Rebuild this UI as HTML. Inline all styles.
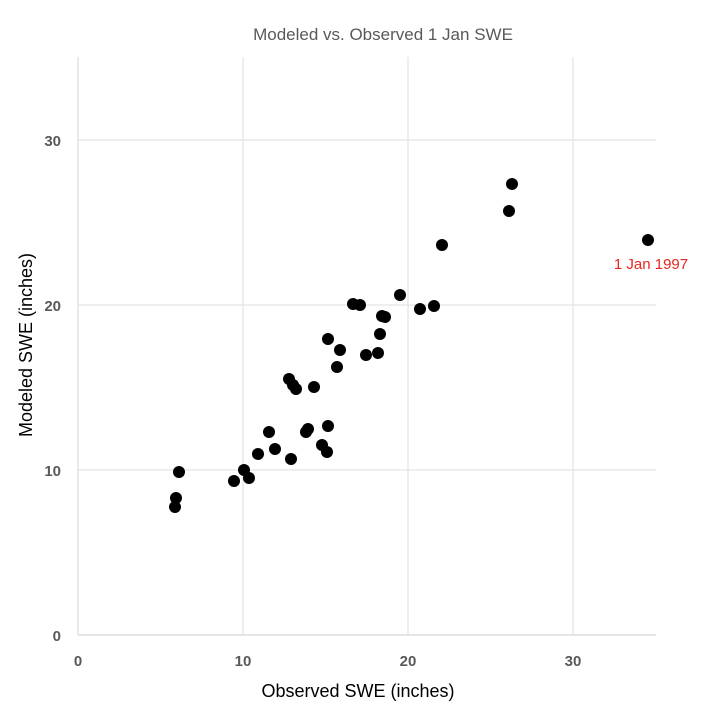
<!DOCTYPE html>
<html><head><meta charset="utf-8"><style>body{margin:0;background:#fff}</style></head><body>
<svg width="714" height="712" xmlns="http://www.w3.org/2000/svg" font-family="Liberation Sans, sans-serif">
<rect width="714" height="712" fill="#fff"/>
<text x="383" y="40" text-anchor="middle" font-size="17" fill="#595959">Modeled vs. Observed 1 Jan SWE</text>
<g stroke="#e3e3e3" stroke-width="1.2">
<line x1="78" y1="140" x2="656" y2="140"/><line x1="78" y1="305" x2="656" y2="305"/><line x1="78" y1="470" x2="656" y2="470"/>
<line x1="243" y1="57" x2="243" y2="635"/><line x1="408" y1="57" x2="408" y2="635"/><line x1="573" y1="57" x2="573" y2="635"/>
<line x1="78" y1="57" x2="78" y2="635" stroke="#ddd"/>
<line x1="78" y1="635" x2="656" y2="635" stroke="#d6d6d6"/>
</g>
<g font-size="15" font-weight="bold" fill="#595959">
<text x="61" y="146" text-anchor="end">30</text><text x="61" y="311" text-anchor="end">20</text><text x="61" y="476" text-anchor="end">10</text><text x="61" y="641" text-anchor="end">0</text>
<text x="78" y="666" text-anchor="middle">0</text><text x="243" y="666" text-anchor="middle">10</text><text x="408" y="666" text-anchor="middle">20</text><text x="573" y="666" text-anchor="middle">30</text>
</g>
<text x="358" y="697" text-anchor="middle" font-size="18" fill="#000">Observed SWE (inches)</text>
<text transform="translate(32,345) rotate(-90)" text-anchor="middle" font-size="18" fill="#000">Modeled SWE (inches)</text>
<text x="651" y="269" text-anchor="middle" font-size="15" fill="#e8261f">1 Jan 1997</text>
<g fill="#000">
<circle cx="175" cy="507" r="6"/><circle cx="176" cy="498" r="6"/><circle cx="179" cy="472" r="6"/><circle cx="234" cy="481" r="6"/><circle cx="249" cy="478" r="6"/><circle cx="244" cy="470" r="6"/><circle cx="258" cy="454" r="6"/><circle cx="269" cy="432" r="6"/><circle cx="275" cy="449" r="6"/><circle cx="291" cy="459" r="6"/><circle cx="289" cy="379" r="6"/><circle cx="293" cy="385" r="6"/><circle cx="296" cy="389" r="6"/><circle cx="306" cy="432" r="6"/><circle cx="308" cy="429" r="6"/><circle cx="314" cy="387" r="6"/><circle cx="322" cy="445" r="6"/><circle cx="327" cy="452" r="6"/><circle cx="328" cy="426" r="6"/><circle cx="328" cy="339" r="6"/><circle cx="337" cy="367" r="6"/><circle cx="340" cy="350" r="6"/><circle cx="353" cy="304" r="6"/><circle cx="360" cy="305" r="6"/><circle cx="366" cy="355" r="6"/><circle cx="378" cy="353" r="6"/><circle cx="380" cy="334" r="6"/><circle cx="382" cy="316" r="6"/><circle cx="385" cy="317" r="6"/><circle cx="400" cy="295" r="6"/><circle cx="420" cy="309" r="6"/><circle cx="434" cy="306" r="6"/><circle cx="442" cy="245" r="6"/><circle cx="509" cy="211" r="6"/><circle cx="512" cy="184" r="6"/><circle cx="648" cy="240" r="6"/>
</g>
</svg>
</body></html>
